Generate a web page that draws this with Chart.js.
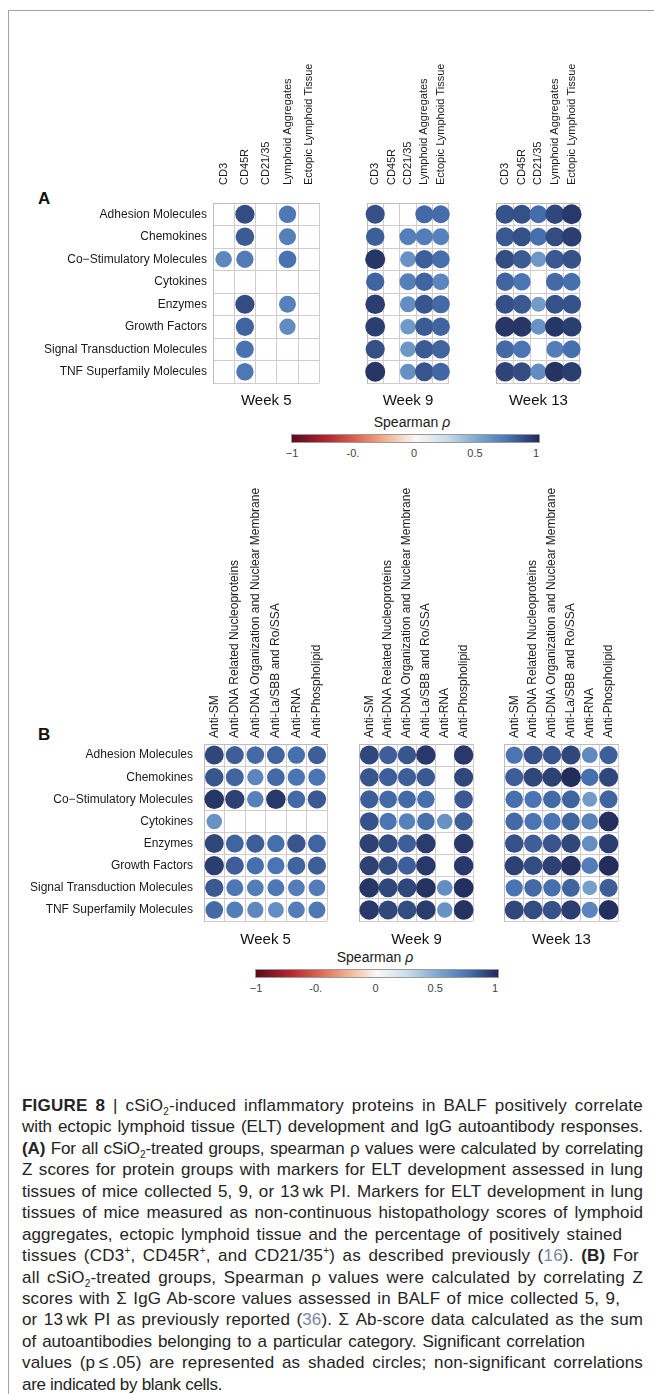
<!DOCTYPE html>
<html>
<head>
<meta charset="utf-8">
<title>Figure 8</title>
<style>
  body { margin:0; background:#fff; width:654px; height:1394px; position:relative; overflow:hidden;
         font-family:'Liberation Sans', Arial, sans-serif; color:#1a1a1a; }
  #frame { position:absolute; left:8px; top:10px; width:700px; height:1450px;
           border-left:1px solid #a3a3a3; border-top:1px solid #a3a3a3; }
  canvas { position:absolute; }
  .tag { position:absolute; font-weight:bold; font-size:17px; line-height:17px; color:#111; }
  .cb-title { position:absolute; font-size:14px; line-height:14px; transform:translate(-50%,-50%); white-space:nowrap; }
  .cbar { position:absolute; height:9px; box-sizing:border-box; border:1px solid #9a9a9a; }
  .cb-tick { position:absolute; font-size:11px; line-height:12px; color:#444; transform:translateX(-50%); }
  #caption { position:absolute; left:22px; top:1095px; width:621px; color:#262324;
             font-family:'Liberation Sans', Arial, sans-serif; font-size:17px; letter-spacing:-0.3px; }
  #caption div { height:21.45px; line-height:21.45px; white-space:nowrap;
                 text-align:justify; text-align-last:justify; }
  #caption div.last { text-align:left; text-align-last:left; }
  #caption sub, #caption sup { font-size:10px; line-height:0; }
  #caption .ref { color:#7d87a8; }
</style>
</head>
<body>
<div id="frame"></div>

<div class="tag" style="left:38px; top:190px;">A</div>
<canvas id="a5" width="309" height="360" style="left:20px; top:50px;"></canvas>
<canvas id="a9" width="116" height="360" style="left:343px; top:50px;"></canvas>
<canvas id="a13" width="117" height="360" style="left:473px; top:50px;"></canvas>
<div class="cb-title" style="left:412px; top:422px;">Spearman <i>ρ</i></div>
<div id="cbA"></div>

<div class="tag" style="left:38px; top:726px;">B</div>
<canvas id="b5" width="317" height="469" style="left:20px; top:480px;"></canvas>
<canvas id="b9" width="135" height="469" style="left:348px; top:480px;"></canvas>
<canvas id="b13" width="135" height="469" style="left:493px; top:480px;"></canvas>
<div class="cb-title" style="left:375px; top:957px;">Spearman <i>ρ</i></div>
<div id="cbB"></div>

<div id="caption">
  <div><b>FIGURE 8</b> | cSiO<sub>2</sub>-induced inflammatory proteins in BALF positively correlate</div>
  <div>with ectopic lymphoid tissue (ELT) development and IgG autoantibody responses.</div>
  <div><b>(A)</b> For all cSiO<sub>2</sub>-treated groups, spearman ρ values were calculated by correlating</div>
  <div>Z scores for protein groups with markers for ELT development assessed in lung</div>
  <div>tissues of mice collected 5, 9, or 13&#8201;wk PI. Markers for ELT development in lung</div>
  <div>tissues of mice measured as non-continuous histopathology scores of lymphoid</div>
  <div style="width:600px">aggregates, ectopic lymphoid tissue and the percentage of positively stained</div>
  <div style="width:617px">tissues (CD3<sup>+</sup>, CD45R<sup>+</sup>, and CD21/35<sup>+</sup>) as described previously (<span class="ref">16</span>). <b>(B)</b> For</div>
  <div>all cSiO<sub>2</sub>-treated groups, Spearman ρ values were calculated by correlating Z</div>
  <div style="width:598px">scores with Σ IgG Ab-score values assessed in BALF of mice collected 5, 9,</div>
  <div>or 13&#8201;wk PI as previously reported (<span class="ref">36</span>). Σ Ab-score data calculated as the sum</div>
  <div style="width:563px">of autoantibodies belonging to a particular category. Significant correlation</div>
  <div>values (p&#8201;≤&#8201;.05) are represented as shaded circles; non-significant correlations</div>
  <div class="last">are indicated by blank cells.</div>
</div>

<script src="https://cdn.jsdelivr.net/npm/chart.js@4.4.1/dist/chart.umd.min.js"></script>
<script>
// rows (protein groups) shared by both panels
var proteinGroups = ['Adhesion Molecules', 'Chemokines', 'Co\u2212Stimulatory Molecules', 'Cytokines',
  'Enzymes', 'Growth Factors', 'Signal Transduction Molecules', 'TNF Superfamily Molecules'];

// panel A columns: markers of ELT development
var eltMarkers = ['CD3', 'CD45R', 'CD21/35', 'Lymphoid Aggregates', 'Ectopic Lymphoid Tissue'];
// panel B columns: autoantibody categories
var autoAbs = ['Anti-SM', 'Anti-DNA Related Nucleoproteins', 'Anti-DNA Organization and Nuclear Membrane',
  'Anti-La/SBB and Ro/SSA', 'Anti-RNA', 'Anti-Phospholipid'];

var weeks = ['Week 5', 'Week 9', 'Week 13'];

// Spearman rho, null = not significant (blank cell)
var eltWeek5 = [
  [null, 0.88, null, 0.72, null],
  [null, 0.83, null, 0.69, null],
  [0.65, 0.71, null, 0.75, null],
  [null, null, null, null, null],
  [null, 0.88, null, 0.68, null],
  [null, 0.80, null, 0.63, null],
  [null, 0.75, null, null, null],
  [null, 0.72, null, null, null]
];
var eltWeek9 = [
  [0.87, null, null, 0.78, 0.77],
  [0.82, null, 0.69, 0.70, 0.68],
  [0.96, null, 0.60, 0.82, 0.76],
  [0.80, null, 0.69, 0.80, 0.66],
  [0.93, null, 0.62, 0.85, 0.78],
  [0.93, null, 0.57, 0.83, 0.80],
  [0.87, null, 0.58, 0.83, 0.80],
  [0.96, null, 0.61, 0.85, 0.79]
];
var eltWeek13 = [
  [0.86, 0.87, 0.77, 0.90, 0.95],
  [0.84, 0.87, 0.76, 0.88, 0.93],
  [0.88, 0.83, 0.58, 0.84, 0.86],
  [0.80, 0.74, null, 0.78, 0.76],
  [0.87, 0.84, 0.55, 0.86, 0.86],
  [0.96, 0.96, 0.60, 0.96, 0.93],
  [0.78, 0.74, null, 0.70, 0.76],
  [0.91, 0.88, 0.63, 0.97, 0.93]
];

var abWeek5 = [
  [0.90, 0.82, 0.78, 0.80, 0.76, 0.82],
  [0.85, 0.80, 0.66, 0.78, 0.74, 0.74],
  [0.96, 0.92, 0.68, 0.95, 0.78, 0.84],
  [0.60, null, null, null, null, null],
  [0.90, 0.80, 0.82, 0.76, 0.85, 0.80],
  [0.93, 0.82, 0.76, 0.74, 0.80, 0.82],
  [0.84, 0.72, 0.70, 0.72, 0.70, 0.70],
  [0.78, 0.70, 0.65, 0.62, 0.70, 0.72]
];
var abWeek9 = [
  [0.90, 0.82, 0.85, 0.95, null, 0.95],
  [0.85, 0.82, 0.82, 0.84, null, 0.90],
  [0.82, 0.78, 0.78, 0.76, null, 0.84],
  [0.86, 0.74, 0.68, 0.76, 0.60, 0.82],
  [0.92, 0.88, 0.82, 0.94, null, 0.95],
  [0.92, 0.88, 0.82, 0.95, null, 0.95],
  [0.96, 0.90, 0.90, 0.97, 0.62, 0.98],
  [0.95, 0.90, 0.88, 0.94, 0.60, 0.97]
];
var abWeek13 = [
  [0.74, 0.86, 0.85, 0.90, 0.64, 0.82],
  [0.82, 0.90, 0.92, 0.99, 0.76, 0.90],
  [0.76, 0.74, 0.78, 0.80, 0.56, 0.80],
  [0.78, 0.74, 0.74, 0.80, 0.68, 0.98],
  [0.86, 0.82, 0.85, 0.90, 0.62, 0.93],
  [0.92, 0.88, 0.92, 0.97, 0.70, 0.99],
  [0.74, 0.78, 0.76, 0.80, 0.54, 0.82],
  [0.90, 0.88, 0.86, 0.93, 0.66, 0.98]
];

// colour bar
var cbTicks = [-1, -0.5, 0, 0.5, 1];
var cbTickLabels = ['\u22121', '-0.', '0', '0.5', '1'];
var rhoStops = [
  [-1, [92, 10, 30]], [-0.72, [180, 36, 46]], [-0.5, [214, 96, 77]], [-0.25, [243, 175, 143]],
  [0, [250, 248, 246]], [0.25, [202, 221, 234]], [0.5, [126, 168, 206]], [0.75, [72, 114, 178]],
  [1, [32, 42, 88]]
];

function rhoColor(v) {
  for (var i = 1; i < rhoStops.length; i++) {
    if (v <= rhoStops[i][0]) {
      var a = rhoStops[i - 1], b = rhoStops[i];
      var t = (v - a[0]) / (b[0] - a[0]);
      var c = a[1].map(function (x, k) { return Math.round(x + (b[1][k] - x) * t); });
      return 'rgb(' + c.join(',') + ')';
    }
  }
  return 'rgb(' + rhoStops[rhoStops.length - 1][1].join(',') + ')';
}

Chart.defaults.font.family = "'Liberation Sans', Arial, sans-serif";

function heatmap(id, cols, vals, title, g) {
  var pts = [];
  proteinGroups.forEach(function (r, i) {
    cols.forEach(function (c, j) {
      var v = vals[i][j];
      // circle area follows |rho|, like corrplot
      if (v !== null) pts.push({ x: c, y: r, r: Math.sqrt(Math.abs(v)) * g.cell * 0.455, v: v });
    });
  });
  var gridCol = '#d3cbcb';
  return new Chart(document.getElementById(id), {
    type: 'bubble',
    data: {
      datasets: [{
        data: pts,
        borderWidth: 0,
        hoverRadius: 0,
        backgroundColor: pts.map(function (p) { return rhoColor(p.v); })
      }]
    },
    options: {
      responsive: false,
      animation: false,
      events: [],
      layout: { padding: { right: 1, top: 0, bottom: 0, left: 0 } },
      plugins: {
        legend: { display: false },
        tooltip: { enabled: false },
        title: {
          display: true, text: title, position: 'bottom', fullSize: false,
          color: '#111', font: { size: 15, weight: 'normal' },
          padding: { top: g.tpad, bottom: 0 }
        }
      },
      scales: {
        x: {
          type: 'category', labels: cols, position: 'top', offset: true,
          grid: { offset: true, color: gridCol, drawTicks: false },
          border: { color: '#c3baba' },
          ticks: { autoSkip: false, minRotation: 90, maxRotation: 90, padding: g.xpad,
                   labelOffset: g.colFont * 1.2, color: '#1a1a1a', font: { size: g.colFont } },
          afterFit: function (s) { s.height = g.xh; }
        },
        y: {
          type: 'category', labels: proteinGroups, offset: true,
          grid: { offset: true, color: gridCol, drawTicks: false },
          border: { color: '#c3baba' },
          ticks: { display: g.rows, autoSkip: false, padding: g.ypad,
                   color: '#1a1a1a', font: { size: 12 } },
          afterFit: function (s) { s.width = g.yw; }
        }
      }
    }
  });
}

var gA = { xh: 153, xpad: 18, ypad: 6, tpad: 9, colFont: 11, cell: 22.5 };
var gB = { xh: 264, xpad: 6, ypad: 11, tpad: 10, colFont: 12, cell: 22 };

heatmap('a5', eltMarkers, eltWeek5, weeks[0], Object.assign({ yw: 193, rows: true }, gA));
heatmap('a9', eltMarkers, eltWeek9, weeks[1], Object.assign({ yw: 1, rows: false }, gA));
heatmap('a13', eltMarkers, eltWeek13, weeks[2], Object.assign({ yw: 1, rows: false }, gA));

heatmap('b5', autoAbs, abWeek5, weeks[0], Object.assign({ yw: 184, rows: true }, gB));
heatmap('b9', autoAbs, abWeek9, weeks[1], Object.assign({ yw: 1, rows: false }, gB));
heatmap('b13', autoAbs, abWeek13, weeks[2], Object.assign({ yw: 1, rows: false }, gB));

function colorBar(id, left, top, width) {
  var host = document.getElementById(id);
  var grad = rhoStops.map(function (s) {
    return 'rgb(' + s[1].join(',') + ') ' + ((s[0] + 1) / 2 * 100) + '%';
  }).join(', ');
  var bar = document.createElement('div');
  bar.className = 'cbar';
  bar.style.cssText = 'left:' + left + 'px; top:' + top + 'px; width:' + width + 'px; background:linear-gradient(to right, ' + grad + ');';
  host.appendChild(bar);
  cbTicks.forEach(function (v, i) {
    var t = document.createElement('div');
    t.className = 'cb-tick';
    t.textContent = cbTickLabels[i];
    t.style.left = (left + 1 + (v + 1) / 2 * (width - 5)) + 'px';
    t.style.top = (top + 13) + 'px';
    host.appendChild(t);
  });
}
colorBar('cbA', 291, 434, 249);
colorBar('cbB', 255, 969, 244);

// spread part of each caption line's slack over the letters, so the
// justified lines don't get huge word gaps
document.querySelectorAll('#caption div').forEach(function (d) {
  if (d.className === 'last') return;
  d.style.textAlign = 'left';
  d.style.textAlignLast = 'left';
  var rg = document.createRange();
  rg.selectNodeContents(d);
  var w = rg.getBoundingClientRect().width;
  var n = d.textContent.trim().length;
  var slack = d.clientWidth - w;
  if (slack > 0) d.style.letterSpacing = (-0.3 + 0.6 * slack / n) + 'px';
  d.style.textAlign = '';
  d.style.textAlignLast = '';
});
</script>
</body>
</html>
